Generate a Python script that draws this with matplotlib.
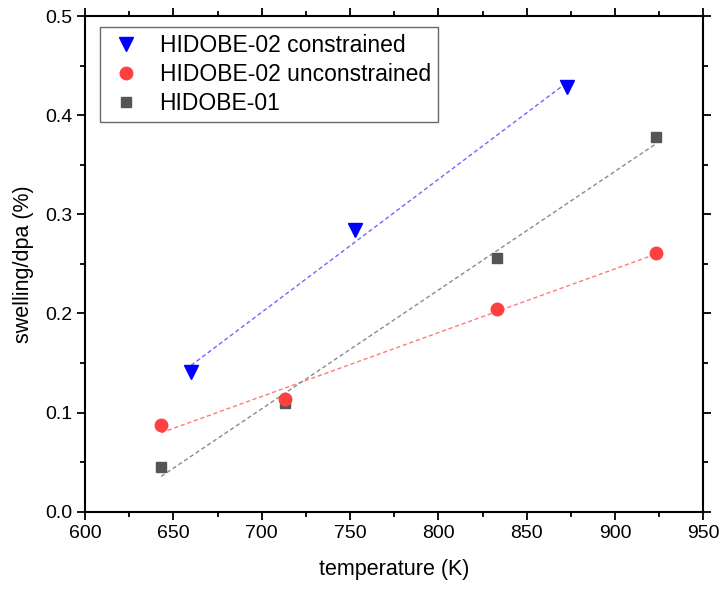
import numpy as np
import matplotlib
matplotlib.use('Agg')
import matplotlib.pyplot as plt

plt.rcParams['font.family'] = ['Liberation Sans', 'DejaVu Sans']

# data
t_con = [660, 753, 873]
sw_con = [0.141, 0.284, 0.428]

t_unc = [643, 713, 833, 923]
sw_unc = [0.087, 0.114, 0.204, 0.261]

t_01 = [643, 713, 833, 923]
sw_01 = [0.045, 0.110, 0.256, 0.378]

fig = plt.figure(figsize=(7.22, 5.93), dpi=100)
ax = fig.add_axes([0.118, 0.137, 0.856, 0.836])

# linear fits, dashed
for t, s, c in [(t_con, sw_con, '#6a6aff'), (t_unc, sw_unc, '#ff7a7a'), (t_01, sw_01, '#8a8a8a')]:
    k, b = np.polyfit(t, s, 1)
    xx = np.array([min(t), max(t)])
    ax.plot(xx, k * xx + b, ls=(0, (3, 2)), color=c, lw=1.0, zorder=1)

ax.plot(t_con, sw_con, 'v', color='#0000ff', ms=10, ls='none', label='HIDOBE-02 constrained', zorder=3)
ax.plot(t_unc, sw_unc, 'o', color='#ff4040', ms=9, ls='none', label='HIDOBE-02 unconstrained', zorder=3)
ax.plot(t_01, sw_01, 's', color='#555555', ms=7.5, ls='none', label='HIDOBE-01', zorder=2)

ax.set_xlim(600, 950)
ax.set_ylim(0, 0.5)
ax.set_xticks(np.arange(600, 951, 50))
ax.set_xticks(np.arange(625, 950, 50), minor=True)
ax.set_yticks(np.arange(0, 0.51, 0.1))
ax.set_yticks(np.arange(0.05, 0.5, 0.1), minor=True)
ax.yaxis.set_major_formatter(matplotlib.ticker.FormatStrFormatter('%.1f'))

ax.tick_params(which='both', direction='out', top=True, right=True, labelsize=14, width=1.3)
ax.tick_params(which='major', length=6)
ax.tick_params(which='minor', length=3.5)
for sp in ax.spines.values():
    sp.set_linewidth(1.5)

ax.set_xlabel('temperature (K)', fontsize=15.5, labelpad=12)
ax.set_ylabel('swelling/dpa (%)', fontsize=15.5, labelpad=8)

leg = ax.legend(loc='upper left', bbox_to_anchor=(0.024, 0.978), fontsize=16.5,
                frameon=True, fancybox=False, edgecolor='#444444', borderpad=0.3,
                labelspacing=0.27, handletextpad=0.6, borderaxespad=0, handlelength=1.7)
leg.get_frame().set_linewidth(1.0)

fig.savefig('out.png', dpi=100)
